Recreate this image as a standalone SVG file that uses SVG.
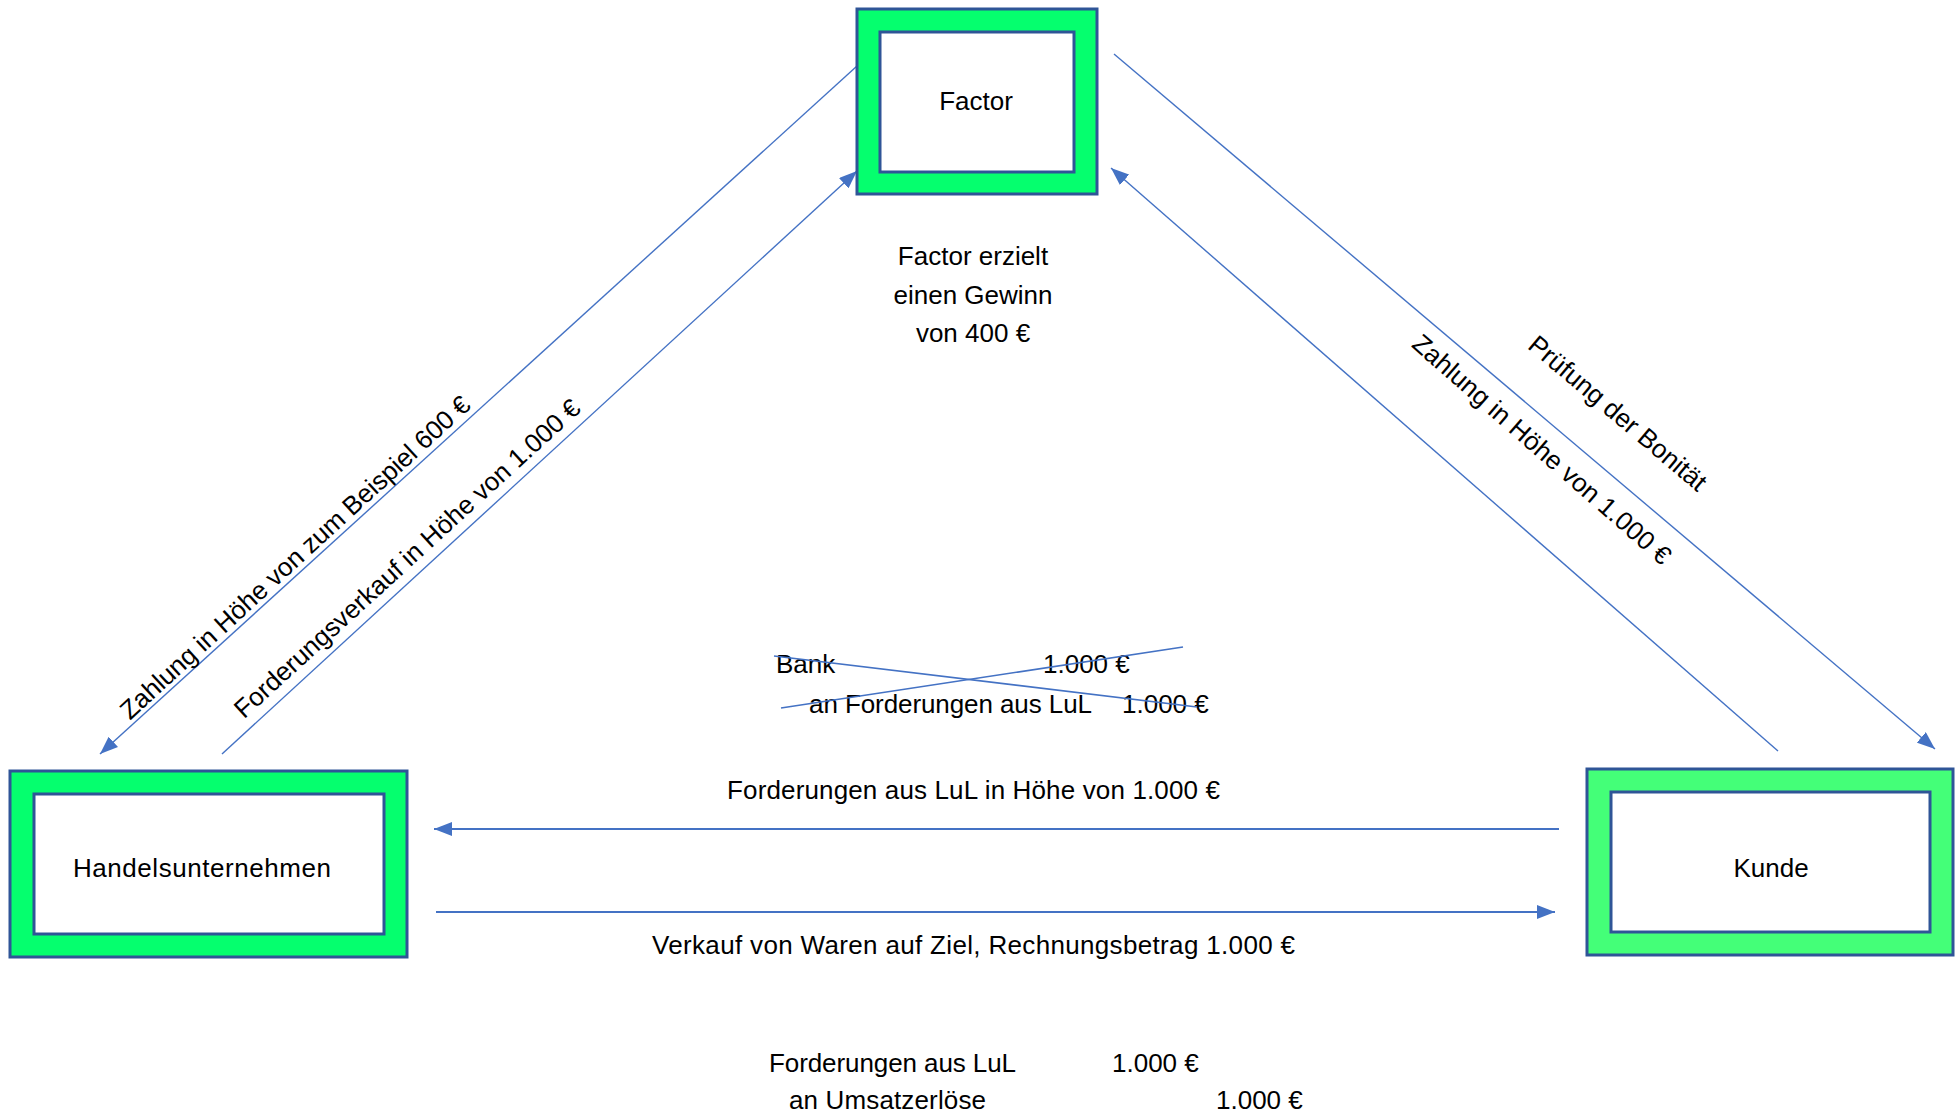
<svg xmlns="http://www.w3.org/2000/svg" width="1958" height="1115" viewBox="0 0 1958 1115">
  <style>
    .t { font-family: "Liberation Sans", Arial, sans-serif; font-size: 26px; fill: #000; }
    .m { text-anchor: middle; }
    .outer { fill: #05FF6E; stroke: #2F5597; stroke-width: 3; }
    .outer2 { fill: #44FF78; stroke: #2F5597; stroke-width: 3; }
    .inner { fill: #FFFFFF; stroke: #2F5597; stroke-width: 3; }
    .conn { stroke: #4472C4; stroke-width: 1.4; fill: none; marker-end: url(#arr); }
    .connh { stroke: #4472C4; stroke-width: 2; fill: none; marker-end: url(#arr); }
    .strike { stroke: #4472C4; stroke-width: 1.6; fill: none; }
  </style>
  <defs>
    <marker id="arr" markerUnits="userSpaceOnUse" markerWidth="18" markerHeight="14" refX="18" refY="7" orient="auto">
      <path d="M0,0 L18,7 L0,14 z" fill="#4472C4"/>
    </marker>
  </defs>
  <rect width="1958" height="1115" fill="#FFFFFF"/>

  <g id="connectors">
    <line class="conn" x1="857" y1="66" x2="100" y2="754"/>
    <line class="conn" x1="222" y1="754" x2="857" y2="171"/>
    <line class="conn" x1="1114" y1="54" x2="1935" y2="749"/>
    <line class="conn" x1="1778" y1="751" x2="1111" y2="168"/>
    <line class="connh" x1="1559" y1="829" x2="434" y2="829"/>
    <line class="connh" x1="436" y1="912" x2="1555" y2="912"/>
  </g>

  <g id="node-factor">
    <rect class="outer" x="857" y="9" width="240" height="185"/>
    <rect class="inner" x="880" y="32" width="194" height="140"/>
    <text class="t m" x="976" y="110">Factor</text>
  </g>

  <g id="node-handelsunternehmen">
    <rect class="outer" x="10" y="771" width="397" height="186"/>
    <rect class="inner" x="34" y="794" width="350" height="140"/>
    <text class="t m" x="202" y="877" textLength="258">Handelsunternehmen</text>
  </g>

  <g id="node-kunde">
    <rect class="outer2" x="1587" y="769" width="366" height="186"/>
    <rect class="inner" x="1611" y="792" width="319" height="140"/>
    <text class="t m" x="1771" y="877">Kunde</text>
  </g>

  <g id="labels">
    <text class="t m" x="973" y="265">Factor erzielt</text>
    <text class="t m" x="973" y="304">einen Gewinn</text>
    <text class="t m" x="973" y="342">von 400 €</text>

    <text class="t m" transform="translate(301,564) rotate(-42.5)" x="0" y="0" textLength="464">Zahlung in Höhe von zum Beispiel 600 €</text>
    <text class="t m" transform="translate(413,565) rotate(-42.4)" x="0" y="0" textLength="458">Forderungsverkauf in Höhe von 1.000 €</text>
    <text class="t m" transform="translate(1612,420) rotate(40.25)" x="0" y="0">Prüfung der Bonität</text>
    <text class="t m" transform="translate(1536,456) rotate(41.2)" x="0" y="0">Zahlung in Höhe von 1.000 €</text>

    <text class="t" x="727" y="799" textLength="493">Forderungen aus LuL in Höhe von 1.000 €</text>
    <text class="t" x="652" y="954" textLength="643">Verkauf von Waren auf Ziel, Rechnungsbetrag 1.000 €</text>
  </g>

  <g id="booking-bank">
    <text class="t" x="776" y="673">Bank</text>
    <text class="t" x="1043" y="673">1.000 €</text>
    <text class="t" x="809" y="713" textLength="283">an Forderungen aus LuL</text>
    <text class="t" x="1122" y="713">1.000 €</text>
    <line class="strike" x1="774" y1="656" x2="1197" y2="707"/>
    <line class="strike" x1="781" y1="708" x2="1183" y2="647"/>
  </g>

  <g id="booking-sales">
    <text class="t" x="769" y="1072" textLength="247">Forderungen aus LuL</text>
    <text class="t" x="1112" y="1072">1.000 €</text>
    <text class="t" x="789" y="1109" textLength="197">an Umsatzerlöse</text>
    <text class="t" x="1216" y="1109">1.000 €</text>
  </g>
</svg>
